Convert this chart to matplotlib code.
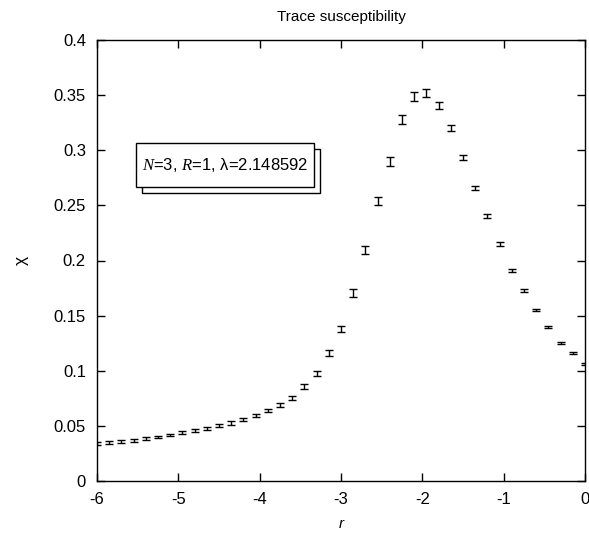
import matplotlib
matplotlib.use('Agg')
import matplotlib.pyplot as plt
from matplotlib.patches import Rectangle
import numpy as np

plt.rcParams['font.family'] = ['Liberation Sans', 'DejaVu Sans']
plt.rcParams['mathtext.fontset'] = 'custom'
plt.rcParams['mathtext.rm'] = 'Liberation Sans'
plt.rcParams['mathtext.it'] = 'Liberation Serif:italic'
plt.rcParams['axes.unicode_minus'] = False

# r values: -6 .. 0 in steps of 0.15
r = [-6.00, -5.85, -5.70, -5.55, -5.40, -5.25, -5.10, -4.95, -4.80, -4.65,
     -4.50, -4.35, -4.20, -4.05, -3.90, -3.75, -3.60, -3.45, -3.30, -3.15,
     -3.00, -2.85, -2.70, -2.55, -2.40, -2.25, -2.10, -1.95, -1.80, -1.65,
     -1.50, -1.35, -1.20, -1.05, -0.90, -0.75, -0.60, -0.45, -0.30, -0.15,
     0.00]
chi = [0.0342, 0.0350, 0.0360, 0.0370, 0.0387, 0.0400, 0.0417, 0.0438, 0.0456, 0.0478,
       0.0502, 0.0526, 0.0560, 0.0596, 0.0640, 0.0690, 0.0752, 0.0856, 0.0975, 0.1160,
       0.1380, 0.1705, 0.2095, 0.2540, 0.2900, 0.3280, 0.3490, 0.3520, 0.3405, 0.3200,
       0.2935, 0.2660, 0.2405, 0.2150, 0.1910, 0.1725, 0.1552, 0.1400, 0.1255, 0.1158,
       0.1062]
err = [0.0012, 0.0012, 0.0012, 0.0012, 0.0012, 0.0012, 0.0012, 0.0013, 0.0013, 0.0013,
       0.0014, 0.0014, 0.0015, 0.0015, 0.0016, 0.0017, 0.0018, 0.0020, 0.0022, 0.0025,
       0.0028, 0.0032, 0.0036, 0.0040, 0.0042, 0.0042, 0.0040, 0.0038, 0.0032, 0.0028,
       0.0024, 0.0020, 0.0018, 0.0016, 0.0014, 0.0012, 0.0010, 0.0010, 0.0010, 0.0010,
       0.0010]

fig = plt.figure(figsize=(5.89, 5.33), dpi=100)
ax = fig.add_axes([97/589, 52/533, 488/589, 441/533])

ax.errorbar(r, chi, yerr=err, fmt='none', ecolor='black', elinewidth=1.0,
            capsize=2.8, capthick=1.0)

ax.set_xlim(-6, 0)
ax.set_ylim(0, 0.4)
ax.set_xticks([-6, -5, -4, -3, -2, -1, 0])
ax.set_yticks(np.arange(0, 0.41, 0.05))
ax.set_yticklabels(['0', '0.05', '0.1', '0.15', '0.2', '0.25', '0.3', '0.35', '0.4'])
ax.tick_params(direction='in', top=True, right=True, length=6, width=1,
               labelsize=12, pad=8)
for s in ax.spines.values():
    s.set_linewidth(1.0)

ax.set_title('Trace susceptibility', fontsize=11, pad=14)
ax.set_xlabel('r', fontsize=11, fontstyle='italic', labelpad=7)
ax.set_ylabel('χ', fontsize=12.5, labelpad=18, rotation=90)

# key box with shadow
bx, by, bw, bh = 136, 143, 178, 44  # pixels (top-left origin)
def fig_rect(x, y, w, h):
    return (x / 589, 1 - (y + h) / 533), w / 589, h / 533
(x0, y0), w0, h0 = fig_rect(bx + 6, by + 6, bw, bh)
fig.patches.append(Rectangle((x0, y0), w0, h0, transform=fig.transFigure,
                             facecolor='white', edgecolor='black', lw=1.0))
(x1, y1), w1, h1 = fig_rect(bx, by, bw, bh)
fig.patches.append(Rectangle((x1, y1), w1, h1, transform=fig.transFigure,
                             facecolor='white', edgecolor='black', lw=1.0))
fig.text(x1 + w1 / 2, y1 + h1 / 2, '$N$=3, $R$=1, λ=2.148592',
         ha='center', va='center', fontsize=12)

fig.savefig('out.png', dpi=100)
